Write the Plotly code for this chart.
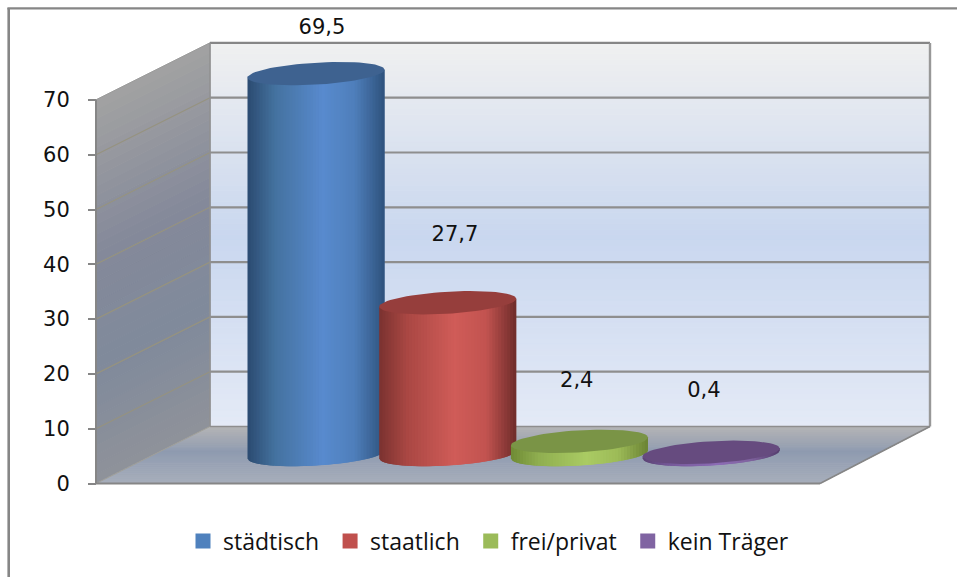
import plotly.graph_objects as go
import numpy as np

# ---- data ----
categories = ["städtisch", "staatlich", "frei/privat", "kein Träger"]
values = [69.5, 27.7, 2.4, 0.4]
y_ticks = [0, 10, 20, 30, 40, 50, 60, 70]

# ---- style ----
legend_colors = ["#4f81bd", "#c0504d", "#9bbb59", "#8064a2"]
top_colors = ["#3e6290", "#963e3c", "#7a9446", "#664b7f"]
side_stops = [
    ["#2b4a70", "#44729f", "#588ace", "#4f7fbb", "#2e527d"],
    ["#7a3230", "#a94743", "#d05c58", "#c25350", "#6e2c2a"],
    ["#6f8a35", "#8fae50", "#aacb63", "#9dbb58", "#6a8334"],
    ["#5a4274", "#76599a", "#8c6cb5", "#80639f", "#553e6e"],
]
side_pos = [0, 0.2, 0.55, 0.78, 1]
label_lift = [13.4, 17.6, 16.1, 16.4]   # label height above value, axis units
label_shift = [0.045, 0.055, -0.02, -0.055]  # label offset from category, axis units
NUM_FONT = "DejaVu Sans"
LEG_FONT = "Open Sans"
W, H = 957, 577
PX_PER_UNIT_Y = 5.48
PX_PER_CAT = 131.7
X0_PX, Y0_PX = 316.0, 483.5

xrange_ = [(0 - X0_PX) / PX_PER_CAT, (W - X0_PX) / PX_PER_CAT]
yrange_ = [(Y0_PX - H) / PX_PER_UNIT_Y, Y0_PX / PX_PER_UNIT_Y]


def cx(px):
    return (px - X0_PX) / PX_PER_CAT


DEPTH = 57 / PX_PER_UNIT_Y      # depth lift of back wall
FRONT_L, FRONT_R, BACK_L, BACK_R = cx(96), cx(820), cx(210), cx(930)
LIFT = 29 / PX_PER_UNIT_Y       # bars stand in the middle of the floor
HALF_W = 68.5 / PX_PER_CAT
SEMI = 11 / PX_PER_UNIT_Y
SHEAR = 4 / PX_PER_UNIT_Y


def hex2rgb(h):
    return np.array([int(h[i:i + 2], 16) for i in (1, 3, 5)], float)


def ramp(pos, cols, t):
    arr = np.array([hex2rgb(c) for c in cols])
    r = [np.interp(t, pos, arr[:, k]) for k in range(3)]
    return "rgb(%d,%d,%d)" % tuple(round(v) for v in r)


fig = go.Figure()


def poly(xs, ys, color, lw=1):
    line = dict(color=color, width=lw) if lw else dict(width=0)
    fig.add_trace(go.Scatter(x=list(xs), y=list(ys), mode="lines", fill="toself",
                             fillcolor=color, line=line,
                             hoverinfo="skip", showlegend=False))


def seg(xs, ys, color, lw):
    fig.add_trace(go.Scatter(x=xs, y=ys, mode="lines", line=dict(color=color, width=lw),
                             hoverinfo="skip", showlegend=False))


# back wall
wall_pos = [0, 0.5, 1]
wall_cols = ["#e4eaf6", "#c9d7ef", "#f0f0f0"]
n = 70
for j in range(n):
    v0, v1 = 70 * j / n, 70 * (j + 1) / n
    poly([BACK_L, BACK_R, BACK_R, BACK_L], [v0 + DEPTH, v0 + DEPTH, v1 + DEPTH, v1 + DEPTH],
         ramp(wall_pos, wall_cols, (j + .5) / n))

# side wall
side_wall_pos = [0, 0.3, 0.6, 1]
side_wall_cols = ["#8f929a", "#808a9b", "#84899a", "#a2a2a2"]
n = 40
for j in range(n):
    v0, v1 = 70 * j / n, 70 * (j + 1) / n
    poly([FRONT_L, BACK_L, BACK_L, FRONT_L], [v0, v0 + DEPTH, v1 + DEPTH, v1],
         ramp(side_wall_pos, side_wall_cols, (j + .5) / n))

# floor
floor_pos = [0, 0.45, 1]
floor_cols = ["#b6b6b6", "#8f9bb0", "#a8aebb"]
n = 28
for j in range(n):
    f0, f1 = j / n, (j + 1) / n
    xl0, xr0 = BACK_L + (FRONT_L - BACK_L) * f0, BACK_R + (FRONT_R - BACK_R) * f0
    xl1, xr1 = BACK_L + (FRONT_L - BACK_L) * f1, BACK_R + (FRONT_R - BACK_R) * f1
    poly([xl0, xr0, xr1, xl1], [DEPTH * (1 - f0), DEPTH * (1 - f0), DEPTH * (1 - f1), DEPTH * (1 - f1)],
         ramp(floor_pos, floor_cols, (j + .5) / n))

# grid lines
for v in y_ticks[1:-1]:
    seg([BACK_L, BACK_R], [v + DEPTH, v + DEPTH], "#8e8e8e", 2.2)
    seg([FRONT_L, BACK_L], [v, v + DEPTH], "#96937f", 1.2)
seg([FRONT_L, BACK_L], [0, DEPTH], "#a09f98", 1)
seg([FRONT_L, BACK_L], [70, 70 + DEPTH], "#9a9a9a", 1)
seg([BACK_L, BACK_R], [70 + DEPTH, 70 + DEPTH], "#868686", 2.2)
seg([BACK_R, BACK_R], [DEPTH, 70 + DEPTH], "#989898", 2.4)
seg([BACK_L, BACK_L], [DEPTH, 70 + DEPTH], "#909090", 1.5)
seg([BACK_L, BACK_R], [DEPTH, DEPTH], "#8e8e8e", 1.5)
seg([FRONT_L, FRONT_L], [0, 70], "#868686", 2)
seg([FRONT_L, FRONT_R], [0, 0], "#868686", 2.2)
seg([FRONT_R, BACK_R], [0, DEPTH], "#868686", 1.5)

# cylinders: stripes overlap to the right so no seams show
n = 46
for i, v in enumerate(values):
    us = np.linspace(-1, 1, n + 1)
    for j in range(n):
        hi = us[min(j + 2, n)]
        u = np.linspace(us[j], hi, 5)
        bottom = LIFT + SHEAR * u - SEMI * np.sqrt(np.clip(1 - u ** 2, 0, 1))
        top = v + LIFT + SHEAR * u
        poly(list(i + HALF_W * u) + list(i + HALF_W * u[::-1]),
             list(bottom) + list(top[::-1]),
             ramp(side_pos, side_stops[i], (j + .5) / n), lw=0)
    t = np.linspace(0, 2 * np.pi, 72)
    poly(i + HALF_W * np.cos(t), v + LIFT + SHEAR * np.cos(t) + SEMI * np.sin(t), top_colors[i], lw=0)

# data labels
fig.add_trace(go.Scatter(
    x=[i + s for i, s in enumerate(label_shift)],
    y=[v + l for v, l in zip(values, label_lift)],
    mode="text", text=[f"{v:.1f}".replace(".", ",") for v in values],
    textposition="middle center",
    textfont=dict(family=NUM_FONT, size=21, color="#111111"),
    hoverinfo="skip", showlegend=False))

# legend entries
for name, col in zip(categories, legend_colors):
    fig.add_trace(go.Scatter(x=[None], y=[None], mode="markers", name=name + "\u00a0",
                             marker=dict(symbol="square", size=15, color=col)))

fig.update_layout(
    width=W, height=H, margin=dict(l=0, r=0, t=0, b=0),
    paper_bgcolor="white", plot_bgcolor="white", autosize=False,
    xaxis=dict(range=xrange_, visible=False, domain=[0, 1], fixedrange=True),
    yaxis=dict(range=yrange_, domain=[0, 1], anchor="free", position=96 / W,
               tickmode="array", tickvals=y_ticks, ticks="outside", ticklen=8, tickwidth=2,
               tickcolor="#868686", showgrid=False, zeroline=False, showline=False,
               ticklabelstandoff=14, fixedrange=True,
               tickfont=dict(family=NUM_FONT, size=21, color="#111111")),
    legend=dict(orientation="h", x=183 / W, xanchor="left", y=1 - 541 / H, yanchor="middle",
                font=dict(family=LEG_FONT, size=23, color="#111111"),
                bgcolor="rgba(0,0,0,0)", itemwidth=30, traceorder="normal"),
    shapes=[
        dict(type="line", xref="paper", yref="paper", x0=8.7 / W, x1=8.7 / W, y0=0, y1=1 - 8 / H,
             line=dict(color="#868686", width=2.6)),
        dict(type="line", xref="paper", yref="paper", x0=7.4 / W, x1=1, y0=1 - 8.4 / H, y1=1 - 8.4 / H,
             line=dict(color="#868686", width=2.2)),
    ],
)
fig.write_html("out.html", config=dict(displayModeBar=False),
               post_script="document.body.style.margin='0';document.body.style.overflow='hidden';")
